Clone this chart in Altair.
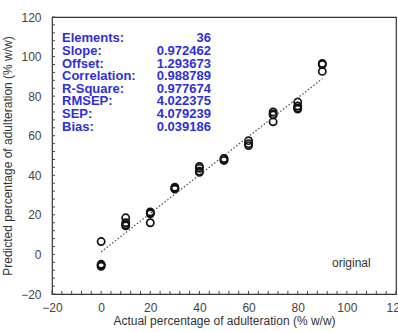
import altair as alt
import pandas as pd

# Data
actual = [0, 0, 0, 0,
          10, 10, 10, 10,
          20, 20, 20, 20,
          30, 30, 30,
          40, 40, 40, 40,
          50, 50, 50,
          60, 60, 60,
          70, 70, 70, 70,
          80, 80, 80, 80,
          90, 90, 90]
predicted = [6.5, -5.0, -5.5, -6.0,
             18.5, 16.0, 14.5, 15.0,
             21.5, 20.5, 16.0, 21.0,
             34.0, 33.0, 33.5,
             44.5, 43.5, 41.5, 42.0,
             48.5, 47.5, 48.0,
             57.5, 56.0, 55.0,
             72.0, 70.5, 67.0, 71.0,
             77.0, 75.0, 73.5, 74.0,
             96.5, 92.5, 96.0]

slope = 0.972462
offset = 1.293673
fit_x = [0, 90]

stat_labels = ["Elements:", "Slope:", "Offset:", "Correlation:", "R-Square:", "RMSEP:", "SEP:", "Bias:"]
stat_values = ["36", "0.972462", "1.293673", "0.988789", "0.977674", "4.022375", "4.079239", "0.039186"]

axis_ticks = [-20, 0, 20, 40, 60, 80, 100, 120]
minor_ticks = list(range(-20, 121, 4))

W, H = 344, 277
FONT = "Liberation Sans"
BLUE = "#2f2fd6"

xs = alt.Scale(domain=[-20, 120], nice=False, zero=False)
ys = alt.Scale(domain=[-20, 120], nice=False, zero=False)

pts = pd.DataFrame({"a": actual, "p": predicted})
fit = pd.DataFrame({"a": fit_x, "p": [slope * v + offset for v in fit_x]})
stats = pd.DataFrame({"lab": stat_labels, "val": stat_values, "row": list(range(len(stat_labels)))})
mt = pd.DataFrame({"t": minor_ticks})

points = alt.Chart(pts).mark_point(
    shape="circle", filled=False, size=52, stroke="#111", strokeWidth=1.7, opacity=1
).encode(
    x=alt.X("a:Q", scale=xs, axis=alt.Axis(
        values=axis_ticks, ticks=False, domain=False, grid=False,
        title="Actual percentage of adulteration (% w/w)",
        labelFont=FONT, labelFontSize=12, labelColor="#444", labelPadding=8,
        titleFont=FONT, titleFontSize=12, titleColor="#333", titleFontWeight="normal",
        titlePadding=2, labelFlush=False)),
    y=alt.Y("p:Q", scale=ys, axis=alt.Axis(
        values=axis_ticks, ticks=False, domain=False, grid=False,
        title="Predicted percentage of adulteration (% w/w)",
        labelFont=FONT, labelFontSize=12, labelColor="#444", labelPadding=11,
        titleFont=FONT, titleFontSize=12, titleColor="#333", titleFontWeight="normal",
        titlePadding=6, labelFlush=False)),
)

line = alt.Chart(fit).mark_line(color="#555", strokeDash=[1.5, 2], strokeWidth=1.3).encode(
    x=alt.X("a:Q", scale=xs), y=alt.Y("p:Q", scale=ys, axis=None)
)

xticks = alt.Chart(mt).mark_rule(color="#444", strokeWidth=1).encode(
    x=alt.X("t:Q", scale=xs), y=alt.value(H), y2=alt.value(H - 3)
)
yticks = alt.Chart(mt).mark_rule(color="#444", strokeWidth=1).encode(
    y=alt.Y("t:Q", scale=ys, axis=None), x=alt.value(0), x2=alt.value(3)
)

rowscale = alt.Scale(domain=list(range(8)), range=[15, 116])
labels = alt.Chart(stats).mark_text(
    align="left", baseline="middle", font=FONT, fontSize=13, fontWeight="bold", color=BLUE
).encode(
    x=alt.value(10),
    y=alt.Y("row:O", scale=rowscale, axis=None),
    text="lab:N",
)
values = alt.Chart(stats).mark_text(
    align="right", baseline="middle", font=FONT, fontSize=13, fontWeight="bold", color=BLUE
).encode(
    x=alt.value(159),
    y=alt.Y("row:O", scale=rowscale, axis=None),
    text="val:N",
)

orig = alt.Chart(pd.DataFrame({"t": ["original"]})).mark_text(
    align="left", baseline="middle", font=FONT, fontSize=12, color="#333"
).encode(x=alt.value(280), y=alt.value(246), text="t:N")

chart = alt.layer(points, line, xticks, yticks, labels, values, orig).properties(
    width=W, height=H,
    autosize=alt.AutoSizeParams(type="none"),
    padding={"left": 52, "top": 17, "right": 2, "bottom": 38},
).configure_view(stroke="#333", strokeWidth=1.2).resolve_scale(y="independent")

chart.save("out.html", embed_options={"renderer": "svg", "actions": False})
